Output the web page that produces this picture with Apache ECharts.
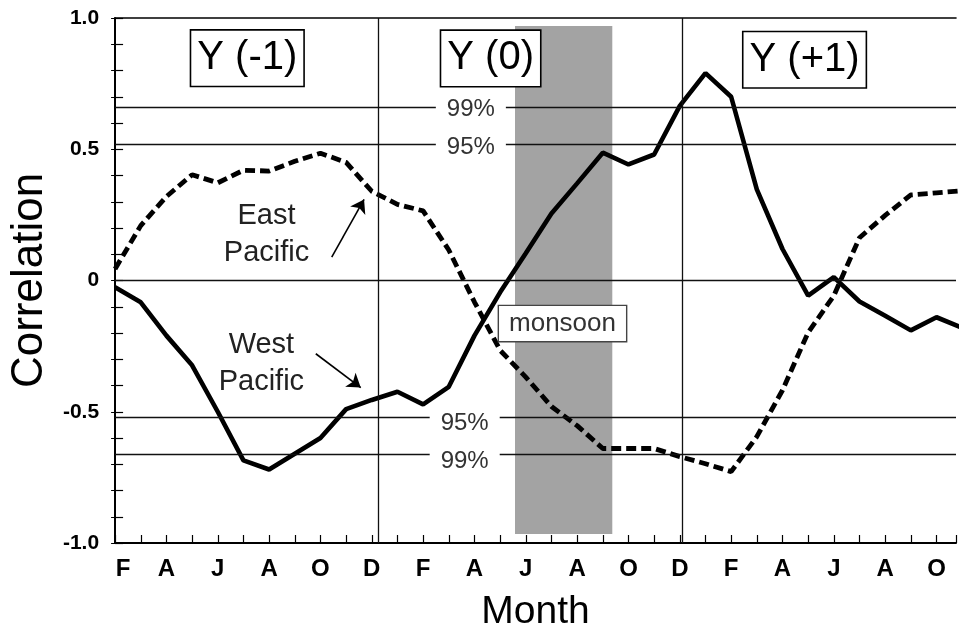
<!DOCTYPE html>
<html>
<head>
<meta charset="utf-8">
<script src="https://cdn.jsdelivr.net/npm/echarts@6.0.0/dist/echarts.min.js"></script>
<style>
html,body{margin:0;padding:0;background:#fff;}
#chart{width:959px;height:637px;}
</style>
</head>
<body>
<div id="chart"></div>
<script>
// Month index 0 = Feb of Y(-1); labels every two months
const tickLabels = ['F','A','J','A','O','D','F','A','J','A','O','D','F','A','J','A','O'];
const westPacific = [-0.026,-0.083,-0.21,-0.323,-0.50,-0.685,-0.72,-0.66,-0.60,-0.49,-0.455,-0.424,-0.472,-0.405,-0.21,-0.045,0.104,0.255,0.37,0.487,0.442,0.48,0.665,0.79,0.70,0.347,0.12,-0.058,0.013,-0.08,-0.134,-0.19,-0.14,-0.18];
const eastPacific = [0.044,0.209,0.32,0.403,0.372,0.42,0.417,0.454,0.485,0.45,0.34,0.29,0.265,0.116,-0.082,-0.266,-0.368,-0.48,-0.553,-0.64,-0.64,-0.64,-0.671,-0.698,-0.728,-0.595,-0.418,-0.198,-0.058,0.163,0.248,0.326,0.334,0.342];
const sig95 = 0.517;
const sig99 = 0.656;
const yearBounds = [10.25, 22.1];
const monsoonSpan = [15.58, 19.37];
const yearLabels = ['Y (-1)', 'Y (0)', 'Y (+1)'];

const FONT = 'Liberation Sans, Arial, Helvetica, sans-serif';
const xMax = 32.76;

const chart = echarts.init(document.getElementById('chart'), null, {renderer:'canvas'});

const boxLabel = (text, size) => ({
  show: true, formatter: text, color: '#000', fontFamily: FONT, fontSize: size,
  backgroundColor: '#fff', borderColor: '#000', borderWidth: 1.6,
  padding: [7, 6, 4, 6], lineHeight: size + 4
});
const sigLabel = (text) => ({
  show: true, formatter: text, color: '#333', fontFamily: FONT, fontSize: 24,
  backgroundColor: '#fff', padding: [1, 11, 1, 11]
});
const plainLabel = (text) => ({
  show: true, formatter: text, color: '#222', fontFamily: FONT, fontSize: 29,
  lineHeight: 37, align: 'center'
});

const option = {
  backgroundColor: '#fff',
  animation: false,
  grid: {left: 113, right: 0, top: 18, bottom: 92, containLabel: false},
  xAxis: [{
    type: 'value', min: 0, max: xMax, interval: 1,
    axisLine: {show: true, onZero: false, lineStyle: {color: '#000', width: 2}},
    axisTick: {show: true, inside: true, length: 8, lineStyle: {color: '#000', width: 1.2}},
    splitLine: {show: false},
    axisLabel: {
      margin: 14, color: '#000', fontFamily: FONT, fontSize: 24, fontWeight: 'bold',
      formatter: function (v) {
        const r = Math.round(v);
        if (Math.abs(v - r) > 1e-6 || r % 2 !== 0) return '';
        const t = tickLabels[r / 2] || '';
        return r === 0 ? '{first|' + t + '}' : t;
      },
      rich: {first: {padding: [0, 0, 0, 16], fontSize: 24, fontWeight: 'bold', fontFamily: FONT, color: '#000'}}
    },
    name: 'Month', nameLocation: 'middle', nameGap: 50,
    nameTextStyle: {color: '#000', fontFamily: FONT, fontSize: 39}
  }, {
    type: 'value', min: 0, max: xMax, position: 'top',
    axisLine: {show: true, onZero: false, lineStyle: {color: '#000', width: 1.6}},
    axisTick: {show: false}, axisLabel: {show: false}, splitLine: {show: false}
  }],
  yAxis: [{
    type: 'value', min: -1, max: 1, interval: 0.5,
    axisLine: {show: true, onZero: false, lineStyle: {color: '#000', width: 2}},
    axisTick: {show: true, inside: true, length: 8, lineStyle: {color: '#000', width: 1.2}},
    minorTick: {show: true, splitNumber: 5, length: 8, lineStyle: {color: '#000', width: 1.2}},
    splitLine: {show: false},
    axisLabel: {
      margin: 16, color: '#000', fontFamily: FONT, fontSize: 21, fontWeight: 'bold',
      formatter: v => (Math.abs(v) < 1e-9 ? '0' : v.toFixed(1))
    },
    name: 'Correlation', nameLocation: 'middle', nameGap: 60,
    nameTextStyle: {color: '#000', fontFamily: FONT, fontSize: 44}
  }, {
    type: 'value', min: -1, max: 1, interval: 0.5, position: 'right',
    axisLine: {show: false},
    axisTick: {show: true, inside: true, length: 4, lineStyle: {color: '#000', width: 1}},
    minorTick: {show: true, splitNumber: 5, length: 4, lineStyle: {color: '#000', width: 1}},
    axisLabel: {show: false}, splitLine: {show: false}
  }],
  series: [
    {
      name: 'monsoon-shade', type: 'line', data: [], z: 1, silent: true,
      markArea: {
        silent: true,
        itemStyle: {color: '#a3a3a3'},
        data: [[{coord: [monsoonSpan[0], 0.97]}, {coord: [monsoonSpan[1], -0.966]}]]
      }
    },
    {
      name: 'reference-lines', type: 'line', data: [], z: 2, silent: true,
      markLine: {
        silent: true, symbol: 'none', label: {show: false},
        lineStyle: {color: '#111', width: 1.3, type: 'solid'},
        data: [
          {yAxis: sig99}, {yAxis: sig95}, {yAxis: 0}, {yAxis: -sig95}, {yAxis: -sig99},
          {xAxis: yearBounds[0]}, {xAxis: yearBounds[1]}
        ]
      }
    },
    {
      name: 'East Pacific', type: 'line', z: 3, symbol: 'none',
      data: eastPacific.map((v, i) => [i, v]),
      lineStyle: {color: '#000', width: 4.8, type: [10, 5]}
    },
    {
      name: 'West Pacific', type: 'line', z: 3, symbol: 'none',
      data: westPacific.map((v, i) => [i, v]),
      lineStyle: {color: '#000', width: 4.6, type: 'solid'}
    },
    {
      name: 'arrows', type: 'line', data: [], z: 4, silent: true,
      itemStyle: {color: '#000'},
      markLine: {
        silent: true, symbol: ['none', 'arrow'], symbolSize: 13,
        label: {show: false},
        itemStyle: {color: '#000'},
        lineStyle: {color: '#000', width: 1.6, type: 'solid'},
        data: [
          [{coord: [8.44, 0.089]}, {coord: [9.70, 0.309]}],
          [{coord: [7.82, -0.279]}, {coord: [9.57, -0.408]}]
        ]
      }
    },
    {
      name: 'annotations', type: 'line', data: [], z: 5, silent: true,
      markPoint: {
        silent: true, symbol: 'circle', symbolSize: 1,
        itemStyle: {color: 'rgba(0,0,0,0)'},
        data: [
          {coord: [5.15, 0.847], label: boxLabel(yearLabels[0], 40)},
          {coord: [14.63, 0.846], label: boxLabel(yearLabels[1], 40)},
          {coord: [26.86, 0.841], label: boxLabel(yearLabels[2], 40)},
          {coord: [17.43, -0.164], label: Object.assign(boxLabel('monsoon', 26), {color: '#333', borderColor: '#444', borderWidth: 1.4, padding: [3, 10, 2, 10]})},
          {coord: [13.86, 0.651], label: sigLabel('99%')},
          {coord: [13.86, 0.506], label: sigLabel('95%')},
          {coord: [13.62, -0.545], label: sigLabel('95%')},
          {coord: [13.62, -0.69], label: sigLabel('99%')},
          {coord: [5.9, 0.175], label: plainLabel('East\nPacific')},
          {coord: [5.7, -0.317], label: plainLabel('West\nPacific')}
        ]
      }
    }
  ]
};
chart.setOption(option);
</script>
</body>
</html>
